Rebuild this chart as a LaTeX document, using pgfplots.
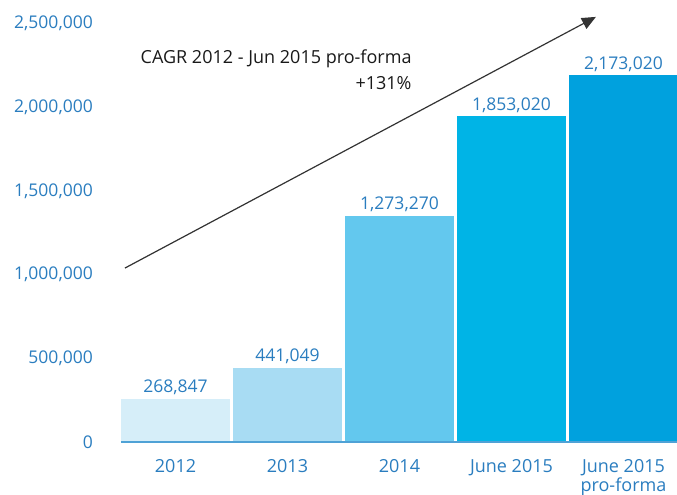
\documentclass[border=0pt]{standalone}
\usepackage{fontspec}
\setmainfont{Open Sans}
\usepackage{pgfplots}
\pgfplotsset{compat=1.18}
\usetikzlibrary{arrows.meta}
\definecolor{txtblue}{HTML}{2A7DBF}
\definecolor{baseblue}{HTML}{4FA2D6}
\definecolor{barA}{HTML}{D6EEF9}
\definecolor{barB}{HTML}{A8DCF3}
\definecolor{barC}{HTML}{63C8EE}
\definecolor{barD}{HTML}{00B4E6}
\definecolor{barE}{HTML}{00A1DE}
\begin{document}
\fontsize{18pt}{21pt}\selectfont
\begin{tikzpicture}
\begin{axis}[
  scale only axis, width=556pt, height=442pt,
  xmin=-0.4866, xmax=4.478, ymin=0, ymax=2640000,
  clip=false,
  axis line style={draw=none}, tick style={draw=none},
  xtick={0,1,2,3,4},
  xticklabels={2012,2013,2014,June 2015,{June 2015\\[-2pt]pro-forma}},
  xticklabel style={align=center, text=txtblue, font=\fontsize{18pt}{21pt}\selectfont, yshift=-7pt},
  ytick={0,500000,1000000,1500000,2000000,2500000},
  yticklabels={0,{500,000},{1,000,000},{1,500,000},{2,000,000},{2,500,000}},
  scaled y ticks=false,
  yticklabel style={text=txtblue, font=\fontsize{17.5pt}{21pt}\selectfont, xshift=-22pt},
  ybar, bar width=109pt,
  nodes near coords, point meta=explicit symbolic,
  every node near coord/.append style={text=txtblue, anchor=base, inner sep=0pt, yshift=6pt, font=\fontsize{17.5pt}{21pt}\selectfont},
]
\addplot[fill=barA, draw=none, bar shift=0pt] coordinates {(0,257000) [268,847]};
\addplot[fill=barB, draw=none, bar shift=0pt] coordinates {(1,442000) [441,049]};
\addplot[fill=barC, draw=none, bar shift=0pt] coordinates {(2,1350000) [1,273,270]};
\addplot[fill=barD, draw=none, bar shift=0pt] coordinates {(3,1947000) [1,853,020]};
\addplot[fill=barE, draw=none, bar shift=0pt] coordinates {(4,2192000) [2,173,020]};
\draw[baseblue, line width=2pt] (rel axis cs:0,0) -- (rel axis cs:1,0);
\draw[black!80, line width=1.2pt, -{Triangle[length=14pt,width=12pt]}]
  (axis cs:-0.451,1039000) -- (axis cs:3.754,2539000);
\node[anchor=base east, inner sep=0pt, text=black!90] at (axis cs:2.109,2258000) {CAGR 2012 - Jun 2015 pro-forma};
\node[anchor=base east, inner sep=0pt, text=black!90] at (axis cs:2.109,2103000) {+131\%};
\coordinate (sw) at (rel axis cs:0,0);
\coordinate (ne) at (rel axis cs:1,1);
\end{axis}
\pgfresetboundingbox
\path[use as bounding box] ([shift={(-121pt,-53pt)}]sw) rectangle (ne);
\end{tikzpicture}
\end{document}
